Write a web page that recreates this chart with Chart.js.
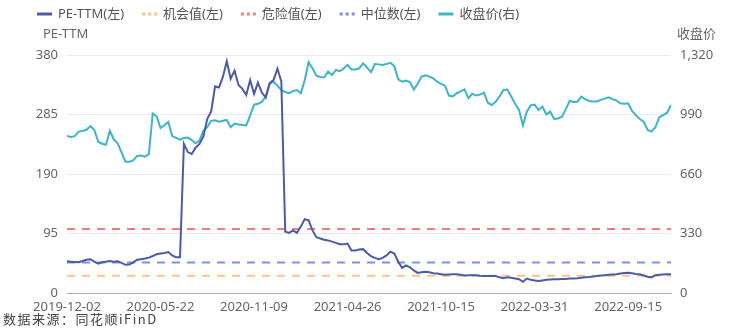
<!DOCTYPE html>
<html><head><meta charset="utf-8">
<script src="https://cdn.jsdelivr.net/npm/chart.js@4.4.0/dist/chart.umd.min.js"></script>
<style>html,body{margin:0;padding:0;background:#fff;}#wrap{width:750px;height:330px;}</style>
</head><body><div id="wrap"><canvas id="c" width="750" height="330"></canvas></div>
<script>
// x tick labels (one every tickEvery weekly points)
const tickLabels = ['2019-12-02','2020-05-22','2020-11-09','2021-04-26','2021-10-15','2022-03-31','2022-09-15'];
const tickEvery = 24;

// PE-TTM (left axis), weekly samples
const peTTM = [
 50.6,50,49.5,49,51,53,54,50,47,49,
 50,51,50,50.5,48,45,45.5,49,53,54,
 55,56.5,59,62,63,64,65.5,60,57,57,
 238,225,222,232,238,250,278,290,330,328,
 345,370,342,355,332,326,316,340,318,336,
 320,312,335,340,358,338,98,96,100,96,
 106,118,116,100,89,87,85,84,82,80,
 78,78,79,68,68,69.5,70,64,59,56,
 54,56,60,66,63,50,40,44,41,36,
 32,33,34,33,31.5,31,30,29,29.5,30,
 30,29,28,28.5,28.5,28.5,27.5,27,27,27,
 27,25,23.5,25,24.5,23,22,18,23,21,
 20,19,20,21,21.5,22,22,22.5,22.5,23,
 23,23.5,24.5,25,25.5,26.5,27,28,28.5,29,
 29.5,30,31,32,32.5,31.5,30.5,30,28,26,
 25,28.5,29,29.5,30,30
];

// 收盘价 (right axis)
const closePrice = [
 871,865,870,895,898,905,926,905,840,828,
 822,900,852,830,780,728,728,735,760,762,
 756,770,995,980,915,930,948,870,860,850,
 860,862,848,830,845,900,920,955,958,950,
 955,960,920,940,935,932,930,985,1045,1050,
 1060,1090,1160,1172,1150,1125,1115,1108,1120,1126,
 1108,1180,1280,1246,1205,1198,1195,1228,1209,1237,
 1230,1245,1265,1240,1240,1246,1274,1250,1225,1270,
 1268,1265,1270,1277,1258,1185,1172,1178,1170,1128,
 1160,1200,1208,1200,1190,1172,1160,1150,1095,1090,
 1108,1118,1129,1080,1105,1095,1100,1111,1055,1043,
 1060,1090,1126,1128,1090,1050,1015,930,1006,1040,
 1045,1015,1034,990,1006,965,968,978,1020,1065,
 1060,1061,1089,1075,1065,1062,1062,1071,1078,1085,
 1075,1068,1052,1050,1052,1010,985,965,950,904,
 895,920,975,987,1000,1043
];

// reference levels (left axis)
const opportunityValue = 27.7;
const dangerValue = 102;
const medianValue = 48.5;

const leftTicks = [0,95,190,285,380];
const rightTicks = [0,330,660,990,1320];

const lastIndex = peTTM.length - 1;
const toXY = arr => arr.map((v,i)=>({x:i,y:v}));
const levelLine = v => [{x:0,y:v},{x:lastIndex,y:v}];

const FONT = '"Noto Sans", "Noto Sans CJK SC", sans-serif';

const overlay = {
  id:'overlay',
  afterDraw(chart){
    const ctx = chart.ctx;
    ctx.save();
    ctx.font = '13px ' + FONT;
    ctx.textBaseline = 'middle';
    ctx.textAlign = 'left';
    let x = 37; const y = 14;
    chart.data.datasets.forEach(ds=>{
      ctx.save();
      ctx.strokeStyle = ds.borderColor;
      ctx.lineWidth = 3;
      ctx.setLineDash(ds.borderDash ? [3,3] : []);
      ctx.beginPath(); ctx.moveTo(x,y); ctx.lineTo(x+15,y); ctx.stroke();
      ctx.restore();
      x += 21;
      ctx.fillStyle = '#555';
      ctx.fillText(ds.label, x, y);
      x += ctx.measureText(ds.label).width + 18;
    });
    ctx.fillStyle = '#666';
    ctx.fillText('PE-TTM', 43, 34);
    ctx.fillText('收盘价', 677, 34);
    ctx.fillStyle = '#444';
    ctx.font = '13px "Noto Sans CJK SC", sans-serif';
    try { ctx.letterSpacing = '1.5px'; } catch(e) {}
    ctx.fillText('数据来源：同花顺iFinD', 3, 319);
    ctx.restore();
  }
};

new Chart(document.getElementById('c'), {
  type:'line',
  data:{
    datasets:[
      {label:'PE-TTM(左)', data:toXY(peTTM), yAxisID:'y', borderColor:'#4b5ba6', borderWidth:2, pointRadius:0, tension:0},
      {label:'机会值(左)', data:levelLine(opportunityValue), yAxisID:'y', borderColor:'#fbc28e', borderWidth:2, borderDash:[8,7], pointRadius:0},
      {label:'危险值(左)', data:levelLine(dangerValue), yAxisID:'y', borderColor:'#f47b7b', borderWidth:2, borderDash:[8,7], pointRadius:0},
      {label:'中位数(左)', data:levelLine(medianValue), yAxisID:'y', borderColor:'#7b8ff3', borderWidth:2, borderDash:[8,7], pointRadius:0},
      {label:'收盘价(右)', data:toXY(closePrice), yAxisID:'y1', borderColor:'#3cb4c9', borderWidth:2, pointRadius:0, tension:0}
    ]
  },
  options:{
    responsive:false, animation:false, devicePixelRatio:1,
    layout:{padding:{top:55,left:0,right:0,bottom:0}},
    plugins:{legend:{display:false}, tooltip:{enabled:false}},
    scales:{
      x:{type:'linear', min:0, max:lastIndex,
        grid:{display:false, drawTicks:false},
        border:{display:true, color:'#a9abc6', width:1},
        afterBuildTicks:s=>{ s.ticks = tickLabels.map((t,k)=>({value:k*tickEvery})); },
        ticks:{autoSkip:false, maxRotation:0, padding:6, color:'#666', font:{size:13, family:FONT},
          callback:v=>tickLabels[Math.round(v/tickEvery)]},
        afterFit:s=>{ s.height = 37; }
      },
      y:{position:'left', min:0, max:380,
        afterBuildTicks:s=>{ s.ticks = leftTicks.map(v=>({value:v})); },
        grid:{color:'#e8e8f1', drawTicks:false}, border:{display:false},
        ticks:{padding:9, color:'#666', font:{size:13, family:FONT}},
        afterFit:s=>{ s.width = 67; }
      },
      y1:{position:'right', min:0, max:1320,
        afterBuildTicks:s=>{ s.ticks = rightTicks.map(v=>({value:v})); },
        grid:{display:false, drawTicks:false}, border:{display:false},
        ticks:{padding:9, color:'#666', font:{size:13, family:FONT}, callback:v=>v.toLocaleString('en-US')},
        afterFit:s=>{ s.width = 79; }
      }
    }
  },
  plugins:[overlay]
});
</script></body></html>
